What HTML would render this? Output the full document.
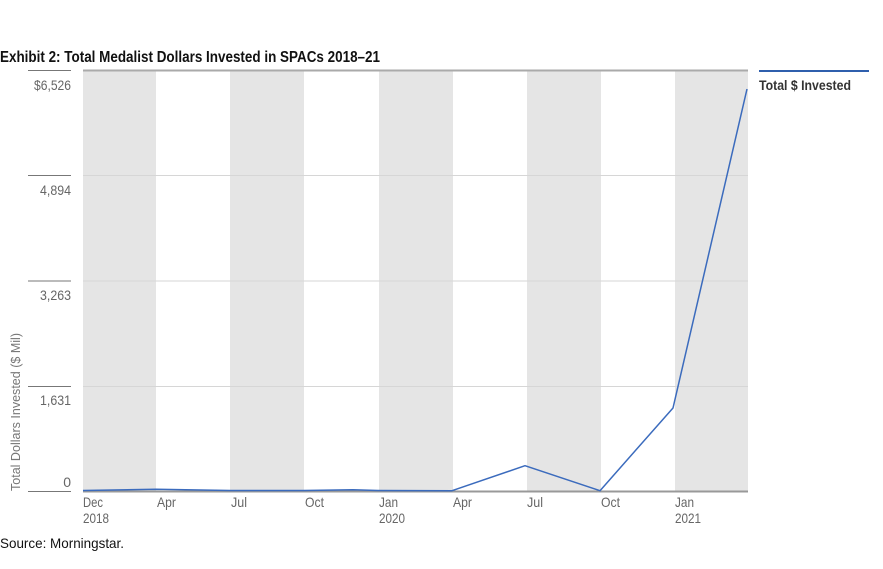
<!DOCTYPE html>
<html><head><meta charset="utf-8"><style>
html,body{margin:0;padding:0;background:#fff;}
svg{display:block;}
text{font-family:"Liberation Sans Narrow","Liberation Sans",sans-serif;}
</style></head><body>
<svg width="883" height="569" viewBox="0 0 883 569" xmlns="http://www.w3.org/2000/svg">
<rect width="883" height="569" fill="#fff"/>
<text x="0" y="62" font-size="16" font-weight="bold" fill="#111" textLength="380" lengthAdjust="spacingAndGlyphs">Exhibit 2: Total Medalist Dollars Invested in SPACs 2018–21</text>
<!-- bands -->
<g fill="#e5e5e5">
<rect x="83" y="71" width="73" height="420"/>
<rect x="230" y="71" width="74" height="420"/>
<rect x="379" y="71" width="74" height="420"/>
<rect x="527" y="71" width="74" height="420"/>
<rect x="675" y="71" width="73" height="420"/>
</g>
<!-- gridlines -->
<g stroke="#d6d6d6" stroke-width="1">
<line x1="83" y1="175.5" x2="748" y2="175.5"/>
<line x1="83" y1="281" x2="748" y2="281"/>
<line x1="83" y1="386.5" x2="748" y2="386.5"/>
</g>
<line x1="83" y1="70.5" x2="748" y2="70.5" stroke="#aaa" stroke-width="2"/>
<line x1="83" y1="491.5" x2="748" y2="491.5" stroke="#999" stroke-width="2"/>
<!-- left ticks -->
<g stroke="#777" stroke-width="1">
<line x1="28" y1="70.5" x2="71" y2="70.5"/>
<line x1="28" y1="175.5" x2="71" y2="175.5"/>
<line x1="28" y1="281" x2="71" y2="281"/>
<line x1="28" y1="386.5" x2="71" y2="386.5"/>
<line x1="28" y1="491.5" x2="71" y2="491.5"/>
</g>
<g font-size="14" fill="#666" text-anchor="end">
<text x="71" y="90" textLength="37" lengthAdjust="spacingAndGlyphs">$6,526</text>
<text x="71" y="195" textLength="31" lengthAdjust="spacingAndGlyphs">4,894</text>
<text x="71" y="300" textLength="31" lengthAdjust="spacingAndGlyphs">3,263</text>
<text x="71" y="405" textLength="31" lengthAdjust="spacingAndGlyphs">1,631</text>
<text x="71" y="487">0</text>
</g>
<text transform="translate(20,491) rotate(-90)" font-size="13" fill="#777" textLength="158" lengthAdjust="spacingAndGlyphs">Total Dollars Invested ($ Mil)</text>
<!-- x labels -->
<g font-size="14" fill="#666">
<text x="83" y="507" textLength="20" lengthAdjust="spacingAndGlyphs">Dec</text>
<text x="83" y="523" textLength="26" lengthAdjust="spacingAndGlyphs">2018</text>
<text x="157" y="507" textLength="19" lengthAdjust="spacingAndGlyphs">Apr</text>
<text x="231" y="507" textLength="16" lengthAdjust="spacingAndGlyphs">Jul</text>
<text x="305" y="507" textLength="19" lengthAdjust="spacingAndGlyphs">Oct</text>
<text x="379" y="507" textLength="19" lengthAdjust="spacingAndGlyphs">Jan</text>
<text x="379" y="523" textLength="26" lengthAdjust="spacingAndGlyphs">2020</text>
<text x="453" y="507" textLength="19" lengthAdjust="spacingAndGlyphs">Apr</text>
<text x="527" y="507" textLength="16" lengthAdjust="spacingAndGlyphs">Jul</text>
<text x="601" y="507" textLength="19" lengthAdjust="spacingAndGlyphs">Oct</text>
<text x="675" y="507" textLength="19" lengthAdjust="spacingAndGlyphs">Jan</text>
<text x="675" y="523" textLength="26" lengthAdjust="spacingAndGlyphs">2021</text>
</g>
<!-- data line -->
<polyline fill="none" stroke="#3b6bbd" stroke-width="1.5" stroke-linejoin="round"
 points="83,490.5 156,489.3 230,490.5 304,490.5 353,489.8 378,490.5 452,490.7 525,465.7 600,490.7 673,408 747,89"/>
<!-- legend -->
<line x1="759" y1="71" x2="869" y2="71" stroke="#2f5fad" stroke-width="2"/>
<text x="759" y="90" font-size="14" font-weight="bold" fill="#333" textLength="92" lengthAdjust="spacingAndGlyphs">Total $ Invested</text>
<text x="0" y="548" font-size="14" fill="#111" textLength="124" lengthAdjust="spacingAndGlyphs">Source: Morningstar.</text>
</svg>
</body></html>
